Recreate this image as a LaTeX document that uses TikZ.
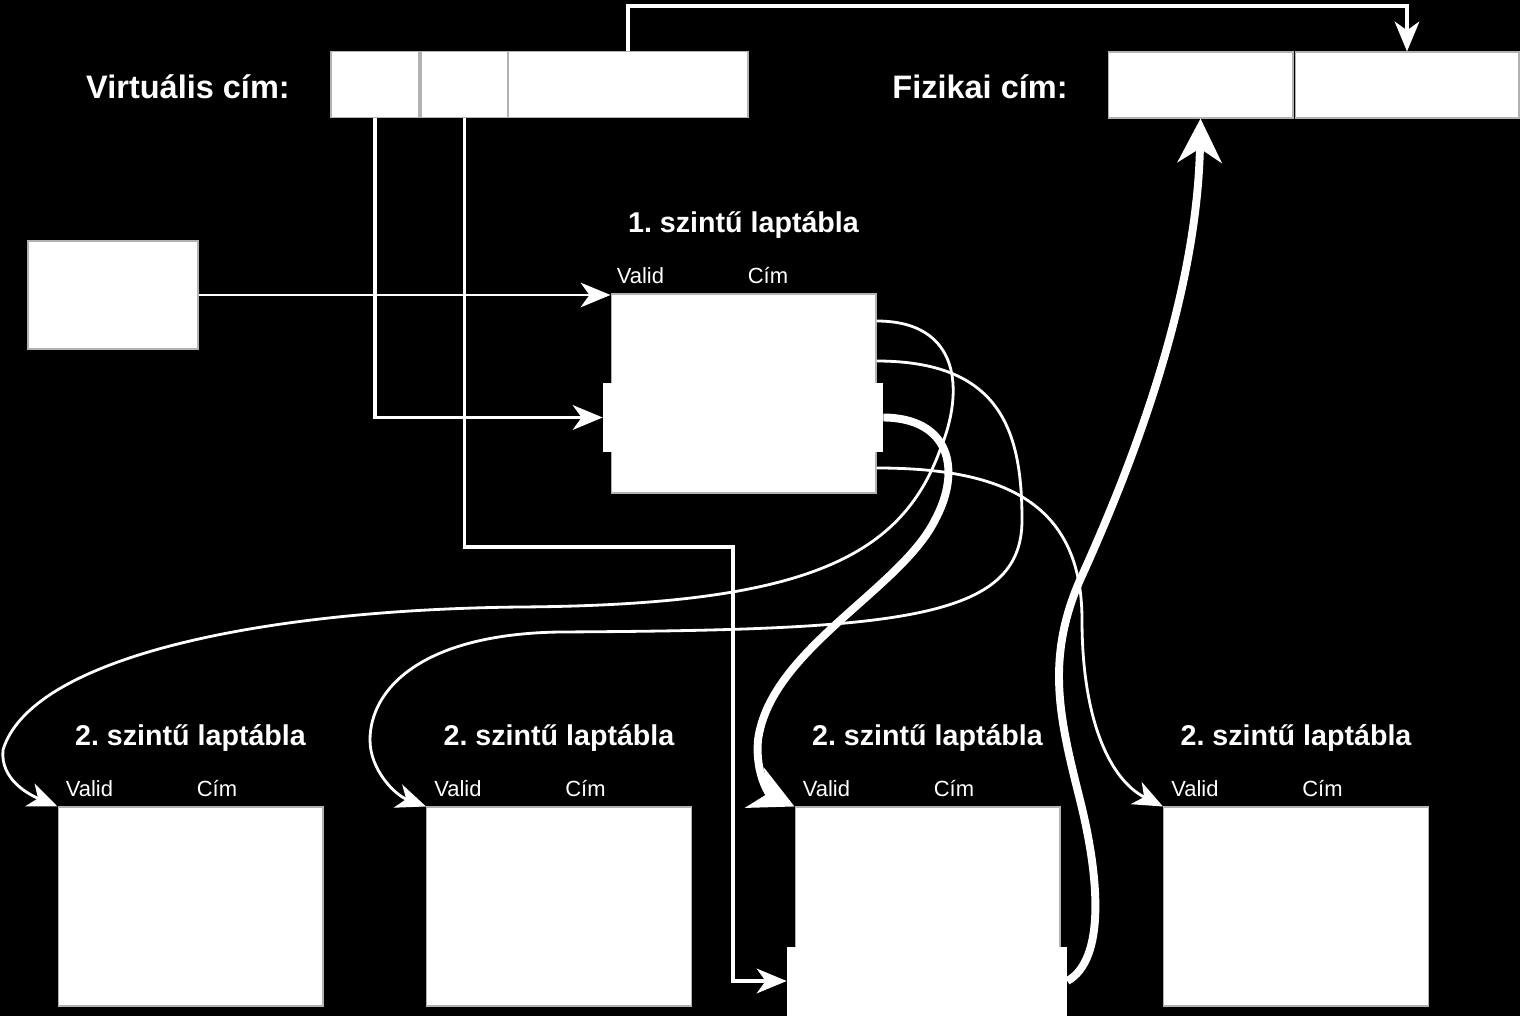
\documentclass[tikz,border=0pt]{standalone}
\usepackage{fontspec}
\setmainfont{Liberation Sans}
\usetikzlibrary{positioning,arrows.meta,calc}
\frenchspacing

\begin{document}
\begin{tikzpicture}[x=0.02cm,y=-0.02cm,
      field/.style={draw=gray!60,line width=0.6pt,fill=white,minimum height=1.32cm,inner sep=0pt},
      tbl/.style={draw=gray!60,line width=0.6pt,fill=white,minimum width=5.3cm,minimum height=3.98cm,inner sep=0pt},
      hrow/.style={fill=white,minimum width=5.6cm,minimum height=1.38cm,inner sep=0pt},
      addrlabel/.style={text=white,font=\fontsize{18.5}{22}\selectfont\bfseries,anchor=base,inner sep=0pt},
      tabtitle/.style={text=white,font=\fontsize{16.3}{20}\selectfont\bfseries,anchor=base,inner sep=0pt},
      lbl/.style={text=white,font=\fontsize{12.5}{15}\selectfont,anchor=base west,inner sep=0pt},
      wire/.style={white,line width=1.6pt},
      addr/.style={white,line width=2.2pt},
      heavy/.style={white,line width=4.5pt},
      arrowtip/.style={-{Stealth[length=17pt,width=14pt,inset=5pt]}},
      bigarrow/.style={-{Stealth[length=25pt,width=25pt,inset=8pt]}}]
    \path[use as bounding box,fill=black] (0,0) rectangle (1520,1016);

    \node[addrlabel] (vlab) at (188,99) {Virtuális cím:};
    \node[field,minimum width=1.76cm] (vf1) at (375,84.5) {};
    \node[field,minimum width=1.74cm] (vf2) at (464.5,84.5) {};
    \node[field,minimum width=4.8cm] (vf3) at (628,84.5) {};

    \node[addrlabel] (plab) at (980,99) {Fizikai cím:};
    \node[field,minimum width=3.7cm] (pf1) at (1200.5,85) {};
    \node[field,minimum width=4.48cm] (pf2) at (1407,85) {};

    \node[field,minimum width=3.4cm,minimum height=2.16cm] (ptr) at (113,295) {};

    \node[tbl] (l1) at (743.5,393.5) {};
    \node[hrow] (l1row) at (743,417.5) {};
    \node[tabtitle] (l1t) at ($(l1.north)+(0,-61)$) {1. szintű laptábla};
    \node[lbl] (l1v) at ($(l1.north west)+(6,-10)$) {Valid};
    \node[lbl] (l1c) at ($(l1.north west)+(137,-10)$) {Cím};

    \foreach \i/\x in {1/190.5,2/559,3/927.5,4/1296} {
      \node[tbl] (t\i) at (\x,906.5) {};
      \node[tabtitle] (t\i t) at ($(t\i.north)+(0,-61)$) {2. szintű laptábla};
      \node[lbl] (t\i v) at ($(t\i.north west)+(8,-10)$) {Valid};
      \node[lbl] (t\i c) at ($(t\i.north west)+(139,-10)$) {Cím};
    }
    \node[hrow] (l2row) at (927,981) {};

    \coordinate (bend) at (733,547);
    \coordinate (over) at (1000,6);

    \draw[wire,arrowtip] (ptr.east) -- (ptr.east -| l1.west);
    \draw[addr,arrowtip] (vf1.south) |- (l1row.west);
    \draw[addr,arrowtip] (vf2.south) |- (bend) |- (l2row.west);
    \draw[addr,arrowtip] (vf3.north) |- (over) -| (pf2.north);

    \draw[wire,arrowtip] (l1.east |- 0,321) .. controls (960,321) and (965,390) .. (940,450)
      .. controls (900,560) and (800,605) .. (520,607)
      .. controls (250,610) and (30,660) .. (3,750)
      .. controls (0,780) and (30,795) .. (t1.north west);
    \draw[wire,arrowtip] (l1.east |- 0,361) .. controls (1000,361) and (1022,430) .. (1022,520)
      .. controls (1022,620) and (900,630) .. (560,632)
      .. controls (420,634) and (370,690) .. (370,740)
      .. controls (370,770) and (395,795) .. (t2.north west);
    \draw[heavy,bigarrow] (l1row.east) .. controls (950,418) and (962,470) .. (935,520)
      .. controls (900,590) and (770,650) .. (758,740)
      .. controls (755,775) and (770,795) .. (t3.north west);
    \draw[wire,arrowtip] (l1.east |- 0,468) .. controls (1000,468) and (1082,500) .. (1082,620)
      .. controls (1082,720) and (1110,780) .. (t4.north west);
    \draw[heavy,bigarrow] (l2row.east) .. controls (1105,960) and (1100,880) .. (1080,800)
      .. controls (1060,720) and (1045,660) .. (1080,580)
      .. controls (1130,470) and (1197,300) .. (pf1.south);
  \end{tikzpicture}
\end{document}
